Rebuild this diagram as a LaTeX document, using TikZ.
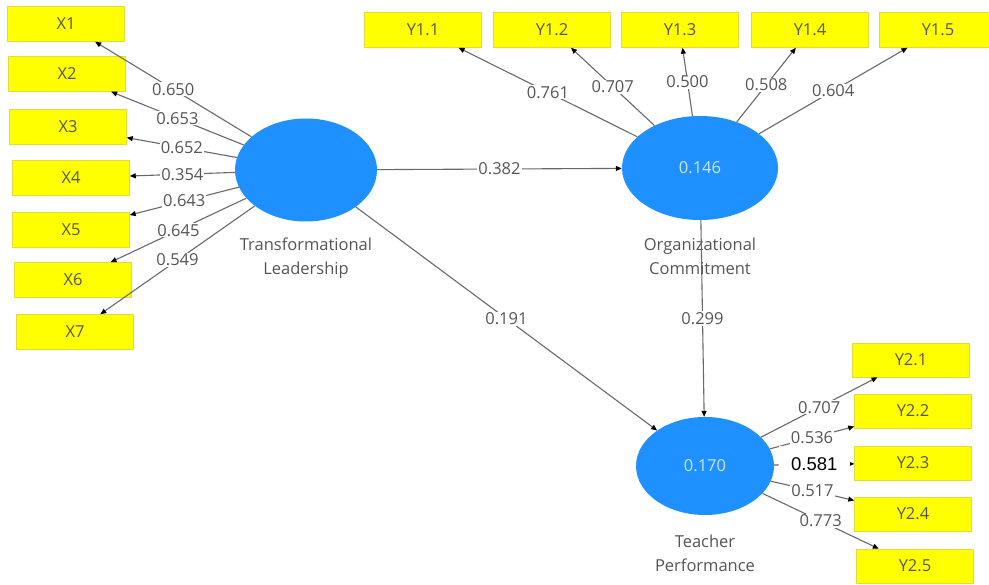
\documentclass[tikz,border=0pt]{standalone}
\usepackage{fontspec}
\setmainfont{Open Sans}
\newfontfamily\patchfont{Liberation Sans}
\usetikzlibrary{arrows.meta,shapes.geometric}
\definecolor{indyellow}{RGB}{255,255,0}
\definecolor{indedge}{RGB}{225,220,60}
\definecolor{latblue}{RGB}{30,144,255}
\definecolor{latvalue}{RGB}{205,230,255}
\definecolor{linegray}{RGB}{105,105,105}
\definecolor{txtgray}{RGB}{85,85,85}
\begin{document}
\begin{tikzpicture}[x=1pt,y=-1pt,
  indicator/.style={rectangle, fill=indyellow, draw=indedge, line width=0.5pt,
    minimum width=117pt, minimum height=35pt, inner sep=0pt,
    text=txtgray, font=\fontsize{16.5}{20}\selectfont},
  latent/.style={ellipse, fill=latblue, draw=none, inner sep=0pt,
    text=latvalue, font=\fontsize{16.5}{20}\selectfont},
  latname/.style={align=center, text=txtgray, font=\fontsize{16.5}{24}\selectfont},
  path/.style={draw=linegray, line width=1.1pt,
    -{Triangle[length=6pt,width=5pt,black]}},
  coef/.style={fill=white, inner sep=1pt, text=txtgray,
    font=\fontsize{16.5}{20}\selectfont, pos=0.5},
  patched/.style={fill=white, inner sep=0pt, minimum width=71pt, minimum height=37pt,
    text=black, font=\patchfont\fontsize{18.5}{22}\selectfont, pos=0.5}
]
\useasboundingbox (0,0) rectangle (989,585);
\clip (0,0) rectangle (989,585);
\fill[white] (0,0) rectangle (989,585);

% latent variables
\node[latent, minimum width=142pt, minimum height=103pt] (TL) at (306,170) {};
\node[latent, minimum width=156pt, minimum height=104pt] (OC) at (700,168) {0.146};
\node[latent, minimum width=138pt, minimum height=98pt] (TP) at (705,466) {0.170};

\node[latname] (TLname) at (306,258) {Transformational\\Leadership};
\node[latname] (OCname) at (700,256) {Organizational\\Commitment};
\node[latname] (TPname) at (705,553) {Teacher\\Performance};

% indicators of Transformational Leadership
\node[indicator] (X1) at (66,24) {X1};
\node[indicator] (X2) at (67,74) {X2};
\node[indicator] (X3) at (68,127) {X3};
\node[indicator] (X4) at (71,178) {X4};
\node[indicator] (X5) at (71,230) {X5};
\node[indicator] (X6) at (73,280) {X6};
\node[indicator] (X7) at (75,332) {X7};

% indicators of Organizational Commitment
\node[indicator] (Y11) at (423,30) {Y1.1};
\node[indicator] (Y12) at (552,30) {Y1.2};
\node[indicator] (Y13) at (680,30) {Y1.3};
\node[indicator] (Y14) at (810,30) {Y1.4};
\node[indicator] (Y15) at (938,30) {Y1.5};

% indicators of Teacher Performance
\node[indicator, minimum height=34pt] (Y21) at (911,360) {Y2.1};
\node[indicator, minimum height=34pt] (Y22) at (913,411) {Y2.2};
\node[indicator, minimum height=34pt] (Y23) at (913,463) {Y2.3};
\node[indicator, minimum height=34pt] (Y24) at (913,514) {Y2.4};
\node[indicator, minimum height=34pt] (Y25) at (915,566) {Y2.5};

% outer loadings
\draw[path] (TL) -- node[coef] {0.650} (X1);
\draw[path] (TL) -- node[coef] {0.653} (X2);
\draw[path] (TL) -- node[coef] {0.652} (X3);
\draw[path] (TL) -- node[coef] {0.354} (X4);
\draw[path] (TL) -- node[coef] {0.643} (X5);
\draw[path] (TL) -- node[coef] {0.645} (X6);
\draw[path] (TL) -- node[coef] {0.549} (X7);

\draw[path] (OC) -- node[coef] {0.761} (Y11);
\draw[path] (OC) -- node[coef] {0.707} (Y12);
\draw[path] (OC) -- node[coef] {0.500} (Y13);
\draw[path] (OC) -- node[coef] {0.508} (Y14);
\draw[path] (OC) -- node[coef] {0.604} (Y15);

\draw[path] (TP) -- node[coef] {0.707} (Y21);
\draw[path] (TP) -- node[coef] {0.536} (Y22);
\draw[path] (TP) -- node[patched] {0.581} (Y23);
\draw[path] (TP) -- node[coef] {0.517} (Y24);
\draw[path] (TP) -- node[coef] {0.773} (Y25);

% structural paths
\draw[path] (TL) -- node[coef] {0.382} (OC);
\draw[path] (TL) -- node[coef] {0.191} (TP);
\draw[path] (OC) -- node[coef] {0.299} (TP);
\end{tikzpicture}
\end{document}
